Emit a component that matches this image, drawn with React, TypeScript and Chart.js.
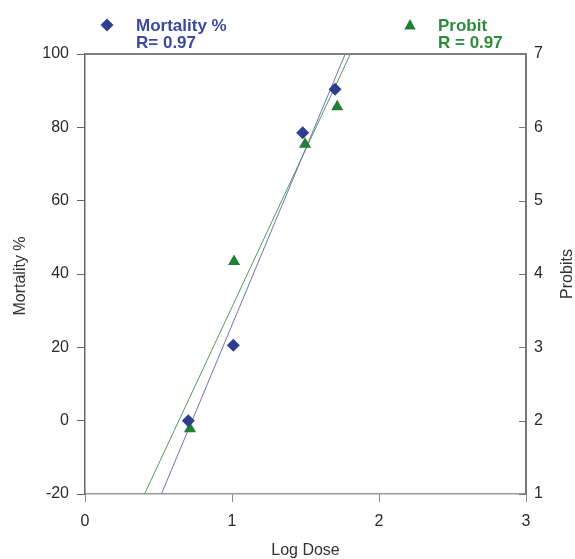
import { useEffect, useRef } from 'react';
import { Chart, registerables } from 'chart.js';
Chart.register(...registerables);

const mortalityDose = [0.703, 1.009, 1.481, 1.701];
const mortalityPct = [0, 20.6, 78.5, 90.4];
const probitDose = [0.714, 1.014, 1.497, 1.716];
const probitValue = [1.89, 4.17, 5.77, 6.28];
const mortalityFitDose = [0.52, 1.77];
const mortalityFitPct = [-20, 100];
const probitFitDose = [0.405, 1.805];
const probitFitValue = [1, 7];
const xRange = [0, 3];
const mortalityRange = [-20, 100];
const probitRange = [1, 7];

const FONT = '"Liberation Sans", Arial, sans-serif';
const BLUE = '#2f3d8f';
const BLUE_TEXT = '#3b4a9e';
const GREEN = '#1f7f34';
const GREEN_TEXT = '#2e8b3e';

const pts = (xs: number[], ys: number[]) => xs.map((x, i) => ({ x, y: ys[i] }));

const decorPlugin = {
  id: 'decor',
  afterDraw(chart: any) {
    const ctx = chart.ctx;
    const a = chart.chartArea;
    ctx.save();
    // top frame line
    ctx.strokeStyle = '#808080';
    ctx.lineWidth = 2;
    ctx.beginPath();
    ctx.moveTo(a.left, a.top);
    ctx.lineTo(a.right + 1, a.top);
    ctx.stroke();
    // inward ticks on right axis
    const y2 = chart.scales.y2;
    ctx.lineWidth = 1;
    ctx.strokeStyle = '#777';
    y2.ticks.forEach((t: any) => {
      const py = Math.round(y2.getPixelForValue(t.value)) + 0.5;
      ctx.beginPath();
      ctx.moveTo(a.right - 7, py);
      ctx.lineTo(a.right, py);
      ctx.stroke();
    });
    // axis titles
    ctx.fillStyle = '#333';
    ctx.font = `16px ${FONT}`;
    ctx.textAlign = 'center';
    ctx.textBaseline = 'alphabetic';
    ctx.fillText('Log Dose', (a.left + a.right) / 2, 555);
    const cy = (a.top + a.bottom) / 2;
    ctx.save();
    ctx.translate(25, cy + 2);
    ctx.rotate(-Math.PI / 2);
    ctx.fillText('Mortality %', 0, 0);
    ctx.restore();
    ctx.save();
    ctx.translate(572, cy);
    ctx.rotate(-Math.PI / 2);
    ctx.fillText('Probits', 0, 0);
    ctx.restore();
    // legend
    ctx.fillStyle = BLUE;
    ctx.beginPath();
    const dx = 107, dy = 25, r = 6.5;
    ctx.moveTo(dx, dy - r);
    ctx.lineTo(dx + r, dy);
    ctx.lineTo(dx, dy + r);
    ctx.lineTo(dx - r, dy);
    ctx.closePath();
    ctx.fill();
    ctx.fillStyle = GREEN;
    ctx.beginPath();
    const tx = 410, ty = 25, tr = 6;
    ctx.moveTo(tx, ty - tr);
    ctx.lineTo(tx + tr * 0.95, ty + tr * 0.75);
    ctx.lineTo(tx - tr * 0.95, ty + tr * 0.75);
    ctx.closePath();
    ctx.fill();
    ctx.textAlign = 'left';
    ctx.font = `bold 17px ${FONT}`;
    ctx.fillStyle = BLUE_TEXT;
    ctx.fillText('Mortality %', 136, 31);
    ctx.fillText('R= 0.97', 136, 48);
    ctx.fillStyle = GREEN_TEXT;
    ctx.fillText('Probit', 438, 31);
    ctx.fillText('R = 0.97', 438, 48);
    ctx.restore();
  },
};

export default function App() {
  const ref = useRef<HTMLCanvasElement>(null);
  useEffect(() => {
    if (!ref.current) return;
    const tickFont = { family: FONT, size: 16 };
    const chart = new Chart(ref.current, {
      type: 'scatter',
      data: {
        datasets: [
          {
            label: 'Mortality %',
            data: pts(mortalityDose, mortalityPct),
            yAxisID: 'y',
            pointStyle: 'rectRot',
            pointRadius: 6.5,
            backgroundColor: BLUE,
            borderColor: BLUE,
            borderWidth: 0,
            order: 1,
          },
          {
            label: 'Probit',
            data: pts(probitDose, probitValue),
            yAxisID: 'y2',
            pointStyle: 'triangle',
            pointRadius: 7,
            backgroundColor: GREEN,
            borderColor: GREEN,
            borderWidth: 0,
            order: 1,
          },
          {
            label: 'Mortality fit',
            data: pts(mortalityFitDose, mortalityFitPct),
            yAxisID: 'y',
            showLine: true,
            pointRadius: 0,
            borderWidth: 1,
            borderColor: '#6b73b3',
            order: 2,
          },
          {
            label: 'Probit fit',
            data: pts(probitFitDose, probitFitValue),
            yAxisID: 'y2',
            showLine: true,
            pointRadius: 0,
            borderWidth: 1,
            borderColor: '#4f9c5e',
            order: 2,
          },
        ],
      },
      options: {
        animation: false,
        responsive: true,
        maintainAspectRatio: false,
        layout: { padding: { top: 54, left: 0, right: 0, bottom: 0 } },
        plugins: { legend: { display: false }, tooltip: { enabled: false } },
        scales: {
          x: {
            type: 'linear',
            min: xRange[0],
            max: xRange[1],
            ticks: { stepSize: 1, font: tickFont, color: '#2a2a2a', padding: 10 },
            grid: { display: true, drawOnChartArea: false, drawTicks: true, tickLength: 8, color: '#888' },
            border: { display: true, color: '#999', width: 1.5 },
            afterFit: (s: any) => { s.height = 65; },
          },
          y: {
            type: 'linear',
            position: 'left',
            min: mortalityRange[0],
            max: mortalityRange[1],
            ticks: { stepSize: 20, font: tickFont, color: '#2a2a2a', padding: 8 },
            grid: { display: true, drawOnChartArea: false, drawTicks: true, tickLength: 8, color: '#666' },
            border: { display: true, color: '#666', width: 1.5 },
            afterFit: (s: any) => { s.width = 85; },
          },
          y2: {
            type: 'linear',
            position: 'right',
            min: probitRange[0],
            max: probitRange[1],
            ticks: { stepSize: 1, font: tickFont, color: '#2a2a2a', padding: 8 },
            grid: { display: true, drawOnChartArea: false, drawTicks: false },
            border: { display: true, color: '#777', width: 2 },
            afterFit: (s: any) => { s.width = 49; },
          },
        },
      },
      plugins: [decorPlugin],
    } as any);
    return () => chart.destroy();
  }, []);
  return (
    <div style={{ position: 'fixed', left: 0, top: 0, width: 575, height: 559, background: '#fff' }}>
      <canvas ref={ref} />
    </div>
  );
}
